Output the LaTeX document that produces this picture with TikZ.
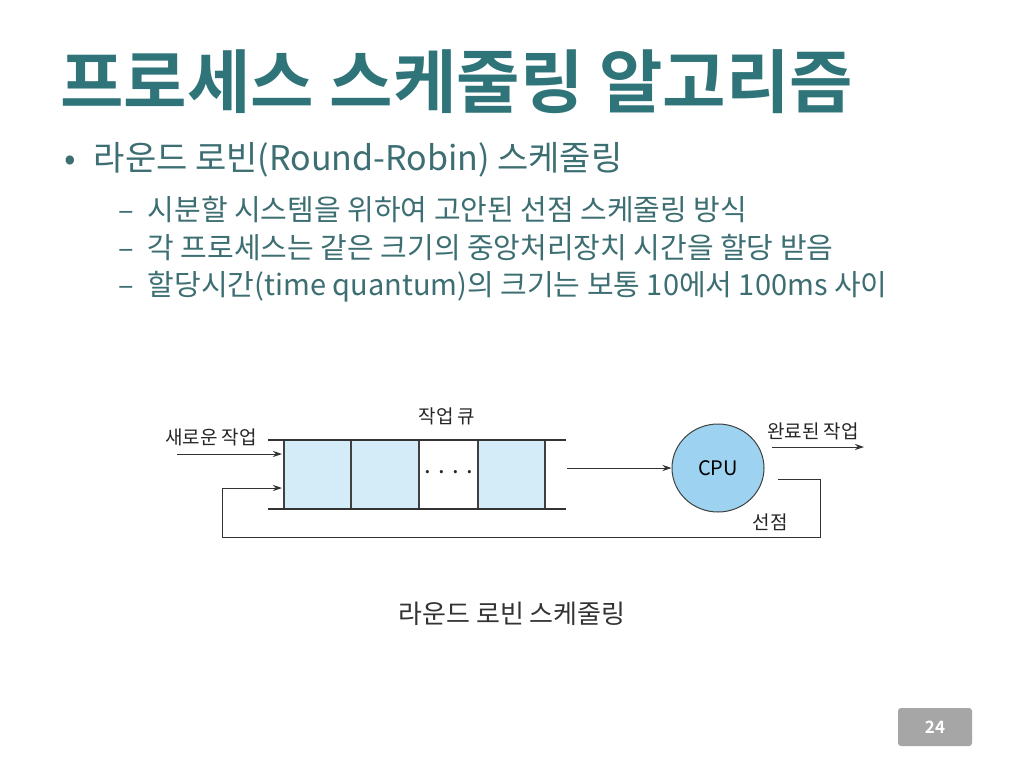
\documentclass[tikz,border=0pt]{standalone}
\usepackage{fontspec}
\setmainfont{Noto Sans CJK KR}
\newfontfamily\titlefont{Noto Sans CJK KR Bold}
\usetikzlibrary{arrows.meta,shapes.geometric}
\definecolor{teal1}{HTML}{2F7479}
\definecolor{txt}{HTML}{3C6E72}
\definecolor{qfill}{HTML}{D3ECF8}
\definecolor{cpufill}{HTML}{9DD3F0}
\tikzset{
  qbox/.style={draw=black!75, line width=1.2pt, fill=qfill},
  conn/.style={draw=black!80, line width=1pt},
  arr/.style={conn, -{Stealth[length=9pt,width=6pt]}},
  lbl/.style={font=\fontsize{19}{19}\selectfont, text=black!85, inner sep=0pt},
  body/.style={anchor=west, inner sep=0pt, text=txt},
}
\begin{document}
\begin{tikzpicture}[x=1pt,y=-1pt]
\useasboundingbox (0,0) rectangle (1024,768);
\fill[white] (0,0) rectangle (1024,768);
\node[anchor=west, inner sep=0pt, text=teal1, font=\titlefont\fontsize{69}{69}\selectfont] (title) at (60,82) {프로세스 스케줄링 알고리즘};
\node[body, font=\fontsize{34}{34}\selectfont] (b1) at (64,160) {•\hspace{18pt}라운드 로빈(Round-Robin) 스케줄링};
\node[body, font=\fontsize{29}{29}\selectfont] (s1) at (118,210) {–\hspace{14pt}시분할 시스템을 위하여 고안된 선점 스케줄링 방식};
\node[body, font=\fontsize{29}{29}\selectfont] (s2) at (118,248) {–\hspace{14pt}각 프로세스는 같은 크기의 중앙처리장치 시간을 할당 받음};
\node[body, font=\fontsize{29}{29}\selectfont] (s3) at (118,287) {–\hspace{14pt}할당시간(time quantum)의 크기는 보통 10에서 100ms 사이};
% queue
\draw[qbox] (284,440) rectangle (351,509);
\draw[qbox] (351,440) rectangle (419,509);
\draw[qbox, fill=white] (419,440) rectangle (478,509);
\draw[qbox] (478,440) rectangle (545,509);
\draw[conn, line width=1.3pt] (268,440) -- (566,440);
\draw[conn, line width=1.3pt] (268,509) -- (566,509);
\node[lbl, font=\fontsize{24}{24}\selectfont] (dots) at (449,472) {. . . .};
\coordinate (qin1) at (282,454);
\coordinate (qin2) at (282,488);
\coordinate (qout) at (567,468);
\node[draw=black!75, line width=1pt, fill=cpufill, ellipse, minimum width=92pt, minimum height=88pt, inner sep=0pt, font=\fontsize{20}{20}\selectfont] (cpu) at (718,468) {CPU};
\coordinate (newin) at (177,454);
\coordinate (doneout) at (864,447);
\coordinate (donest) at (772,447);
\coordinate (pre) at (778,479);
\coordinate (fbr) at (820,479);
\coordinate (fbb) at (820,537);
\coordinate (fbl) at (222,537);
\draw[arr] (newin) -- (qin1);
\draw[arr] (qout) -- (cpu.west);
\draw[arr] (donest) -- (doneout);
\draw[arr] (pre) -- (fbr) -- (fbb) -- (fbl) |- (qin2);
\node[lbl] (l1) at (211,437) {새로운 작업};
\node[lbl] (l2) at (447,416) {작업 큐};
\node[lbl] (l3) at (813,431) {완료된 작업};
\node[lbl] (l4) at (770,522) {선점};
\node[inner sep=0pt, text=black!80, font=\fontsize{26}{26}\selectfont] (cap) at (512,614) {라운드 로빈 스케줄링};
\node[fill=black!35, rounded corners=3pt, minimum width=74pt, minimum height=38pt, text=white, font=\titlefont\fontsize{17}{17}\selectfont] (pg) at (935,727) {24};
\end{tikzpicture}
\end{document}
